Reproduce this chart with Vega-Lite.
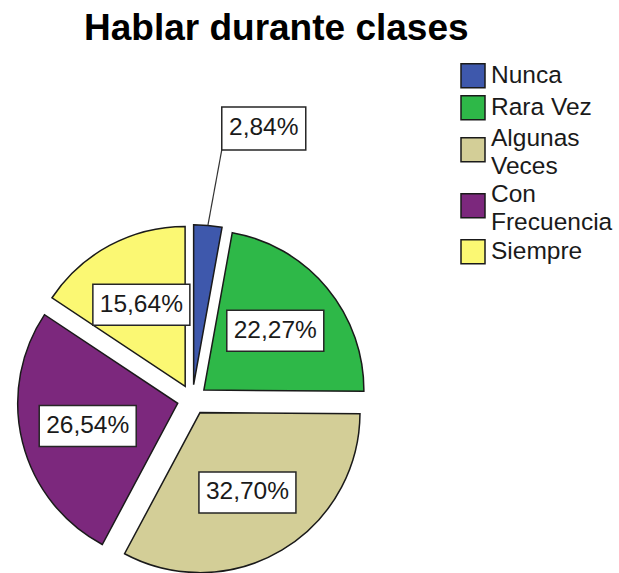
{
  "$schema": "https://vega.github.io/schema/vega-lite/v6.json",
  "width": 619,
  "height": 523,
  "autosize": {"type": "none"},
  "padding": {"left": 0, "top": 50, "right": 0, "bottom": 0},
  "background": "white",
  "config": {"view": {"stroke": null}},
  "title": {
    "text": "Hablar durante clases",
    "font": "Liberation Sans",
    "fontSize": 37,
    "fontWeight": "bold",
    "color": "#000000",
    "anchor": "start",
    "frame": "group",
    "dx": 84,
    "dy": 36,
    "offset": 9,
    "baseline": "alphabetic"
  },
  "data": {
    "values": [
      {"categoria": "Nunca", "porcentaje": 2.84, "orden": 1},
      {"categoria": "Rara Vez", "porcentaje": 22.27, "orden": 2},
      {"categoria": "Algunas Veces", "porcentaje": 32.70, "orden": 3},
      {"categoria": "Con Frecuencia", "porcentaje": 26.54, "orden": 4},
      {"categoria": "Siempre", "porcentaje": 15.64, "orden": 5}
    ]
  },
  "transform": [
    {"window": [{"op": "sum", "field": "porcentaje", "as": "fin"}], "sort": [{"field": "orden"}], "frame": [null, 0]},
    {"calculate": "datum.fin - datum.porcentaje", "as": "inicio"},
    {"calculate": "(datum.fin - datum.porcentaje / 2) * PI / 50", "as": "medio"},
    {"calculate": "0.094 * sin(datum.medio)", "as": "ox"},
    {"calculate": "-0.094 * cos(datum.medio)", "as": "oy"},
    {"calculate": "datum.ox + 0.58 * sin(datum.medio)", "as": "lx"},
    {"calculate": "datum.oy - 0.58 * cos(datum.medio)", "as": "ly"},
    {"calculate": "datum.ox + sin(datum.medio)", "as": "ax"},
    {"calculate": "datum.oy - cos(datum.medio)", "as": "ay"},
    {"calculate": "datum.ox + 1.478 * sin(datum.medio + 0.03)", "as": "bx"},
    {"calculate": "datum.oy - 1.478 * cos(datum.medio + 0.03)", "as": "by"},
    {"calculate": "replace(format(datum.porcentaje, '.2f'), '.', ',') + '%'", "as": "etiqueta"}
  ],
  "layer": [
    {
      "mark": {"type": "arc", "outerRadius": 160, "stroke": "#1a1a1a", "strokeWidth": 1.5},
      "encoding": {
        "theta": {"field": "inicio", "type": "quantitative", "stack": null, "scale": {"domain": [0, 100]}},
        "theta2": {"field": "fin"},
        "x": {"field": "ox", "type": "quantitative", "axis": null, "scale": {"domain": [-1.2019, 2.6669], "nice": false, "zero": false}},
        "y": {"field": "oy", "type": "quantitative", "axis": null, "scale": {"domain": [-2.1856, 1.0831], "reverse": true, "nice": false, "zero": false}},
        "color": {
          "field": "categoria",
          "type": "nominal",
          "scale": {
            "domain": ["Nunca", "Rara Vez", "Algunas Veces", "Con Frecuencia", "Siempre"],
            "range": ["#3E58AC", "#2EB848", "#D3CE97", "#7C287D", "#FBF873"]
          },
          "legend": {
            "title": null,
            "orient": "none",
            "legendX": 460,
            "legendY": 13,
            "padding": 0,
            "symbolType": "square",
            "symbolSize": 576,
            "symbolStrokeColor": "#1a1a1a",
            "symbolStrokeWidth": 1.5,
            "symbolOpacity": 1,
            "labelFont": "Liberation Sans",
            "labelFontSize": 24.5,
            "labelColor": "#1a1a1a",
            "labelOffset": 5,
            "labelLimit": 200,
            "rowPadding": 1,
            "labelExpr": "datum.label == 'Algunas Veces' ? ['Algunas', 'Veces'] : datum.label == 'Con Frecuencia' ? ['Con', 'Frecuencia'] : datum.label",
            "encoding": {
              "entries": {
                "height": {"condition": {"test": "datum.label == 'Algunas Veces' || datum.label == 'Con Frecuencia'", "value": 54.25}, "value": 0}
              },
              "symbols": {
                "y": {"condition": {"test": "datum.label == 'Algunas Veces' || datum.label == 'Con Frecuencia'", "value": 25.75}, "value": 12.75}
              },
              "labels": {
                "lineHeight": {"value": 28},
                "y": {"condition": {"test": "datum.label == 'Algunas Veces' || datum.label == 'Con Frecuencia'", "value": 14.75}, "value": 12.75}
              }
            }
          }
        }
      }
    },
    {
      "transform": [{"filter": "datum.porcentaje < 5"}],
      "mark": {"type": "rule", "stroke": "#333333", "strokeWidth": 1.2},
      "encoding": {
        "x": {"field": "ax", "type": "quantitative", "axis": null, "scale": {"domain": [-1.2019, 2.6669], "nice": false, "zero": false}},
        "y": {"field": "ay", "type": "quantitative", "axis": null, "scale": {"domain": [-2.1856, 1.0831], "reverse": true, "nice": false, "zero": false}},
        "x2": {"field": "bx"},
        "y2": {"field": "by"}
      }
    },
    {
      "transform": [{"filter": "datum.porcentaje >= 5"}],
      "mark": {"type": "point", "shape": "M-1,-0.4227H1V0.4227H-1Z", "size": 9409, "filled": true, "fill": "white", "stroke": "#262626", "strokeWidth": 1.5, "opacity": 1},
      "encoding": {
        "x": {"field": "lx", "type": "quantitative", "axis": null, "scale": {"domain": [-1.2019, 2.6669], "nice": false, "zero": false}},
        "y": {"field": "ly", "type": "quantitative", "axis": null, "scale": {"domain": [-2.1856, 1.0831], "reverse": true, "nice": false, "zero": false}}
      }
    },
    {
      "transform": [{"filter": "datum.porcentaje >= 5"}],
      "mark": {"type": "text", "font": "Liberation Sans", "fontSize": 24.5, "fill": "#1a1a1a", "align": "center", "baseline": "middle"},
      "encoding": {
        "x": {"field": "lx", "type": "quantitative", "axis": null, "scale": {"domain": [-1.2019, 2.6669], "nice": false, "zero": false}},
        "y": {"field": "ly", "type": "quantitative", "axis": null, "scale": {"domain": [-2.1856, 1.0831], "reverse": true, "nice": false, "zero": false}},
        "text": {"field": "etiqueta"}
      }
    },
    {
      "transform": [{"filter": "datum.porcentaje < 5"}],
      "mark": {"type": "point", "shape": "M0,0H2V-1.0238H0Z", "size": 7056, "filled": true, "fill": "white", "stroke": "#262626", "strokeWidth": 1.5, "opacity": 1},
      "encoding": {
        "x": {"field": "bx", "type": "quantitative", "axis": null, "scale": {"domain": [-1.2019, 2.6669], "nice": false, "zero": false}},
        "y": {"field": "by", "type": "quantitative", "axis": null, "scale": {"domain": [-2.1856, 1.0831], "reverse": true, "nice": false, "zero": false}}
      }
    },
    {
      "transform": [{"filter": "datum.porcentaje < 5"}],
      "mark": {"type": "text", "font": "Liberation Sans", "fontSize": 24.5, "fill": "#1a1a1a", "align": "center", "baseline": "middle", "dx": 42, "dy": -21.5},
      "encoding": {
        "x": {"field": "bx", "type": "quantitative", "axis": null, "scale": {"domain": [-1.2019, 2.6669], "nice": false, "zero": false}},
        "y": {"field": "by", "type": "quantitative", "axis": null, "scale": {"domain": [-2.1856, 1.0831], "reverse": true, "nice": false, "zero": false}},
        "text": {"field": "etiqueta"}
      }
    }
  ]
}
